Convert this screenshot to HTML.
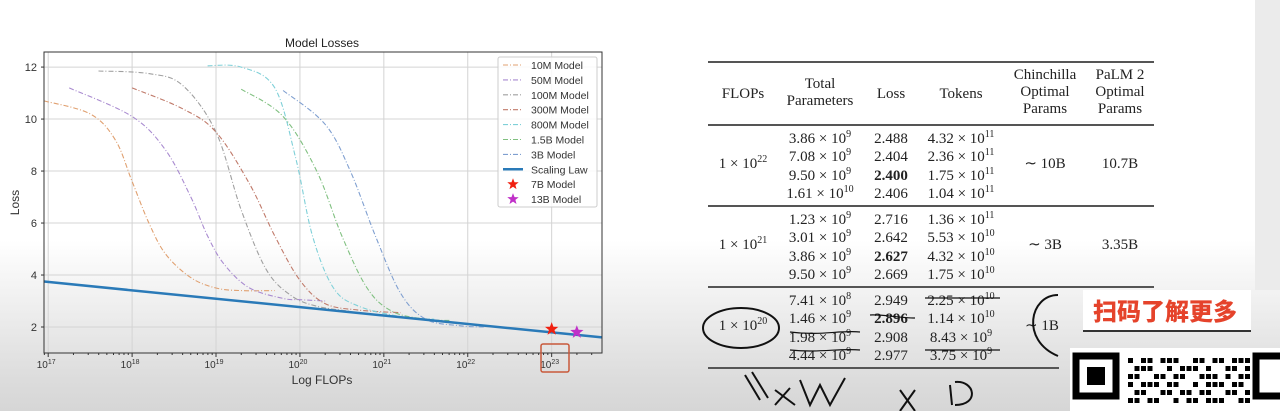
<!DOCTYPE html>
<html><head><meta charset="utf-8">
<style>
html,body{margin:0;padding:0;}
body{width:1280px;height:411px;overflow:hidden;position:relative;background:linear-gradient(to bottom,#ffffff 0px,#ffffff 240px,#f0f0f0 300px,#dcdcdc 380px,#d6d6d6 411px);font-family:"Liberation Sans",sans-serif;}
#panel{position:absolute;left:1255px;top:0;width:25px;height:290px;background:#ebebeb;}
#chart{position:absolute;left:0;top:0;}
.tb{position:absolute;font-family:"Liberation Serif",serif;font-size:15px;color:#222;text-align:center;white-space:nowrap;line-height:17px;}
.rule{position:absolute;height:2px;background:#555;}
sup{font-size:10px;vertical-align:6px;line-height:0;}
b{font-weight:bold;}
#promo{position:absolute;left:1083px;top:290px;width:168px;height:40px;background:#fff;border-bottom:2px solid #333;}
#promo span{position:absolute;left:10px;top:5px;font-family:"Noto Sans CJK SC",sans-serif;font-weight:900;font-size:24px;color:#e5432b;line-height:30px;}
</style></head><body>
<div id="panel"></div>
<svg id="chart" width="640" height="411"></svg>

<div>
<div class="rule" style="left:708px;top:61px;width:446px;"></div>
<div class="rule" style="left:708px;top:124px;width:446px;height:1.5px"></div>
<div class="rule" style="left:708px;top:205px;width:446px;height:1.5px"></div>
<div class="rule" style="left:708px;top:286px;width:446px;height:1.5px"></div>
<div class="rule" style="left:708px;top:367px;width:351px;"></div>
<div class="tb" style="left:713px;top:86px;width:60px">FLOPs</div>
<div class="tb" style="left:780px;top:76px;width:80px">Total<br>Parameters</div>
<div class="tb" style="left:866px;top:86px;width:50px">Loss</div>
<div class="tb" style="left:921px;top:86px;width:80px">Tokens</div>
<div class="tb" style="left:1005px;top:67px;width:80px">Chinchilla<br>Optimal<br>Params</div>
<div class="tb" style="left:1085px;top:67px;width:70px">PaLM 2<br>Optimal<br>Params</div>

<div class="tb" style="left:708px;top:156px;width:70px">1 × 10<sup>22</sup></div>
<div class="tb" style="left:780px;top:130px;width:80px;line-height:18.3px">3.86 × 10<sup>9</sup><br>7.08 × 10<sup>9</sup><br>9.50 × 10<sup>9</sup><br>1.61 × 10<sup>10</sup></div>
<div class="tb" style="left:866px;top:130px;width:50px;line-height:18.3px">2.488<br>2.404<br><b>2.400</b><br>2.406</div>
<div class="tb" style="left:921px;top:130px;width:80px;line-height:18.3px">4.32 × 10<sup>11</sup><br>2.36 × 10<sup>11</sup><br>1.75 × 10<sup>11</sup><br>1.04 × 10<sup>11</sup></div>
<div class="tb" style="left:1005px;top:156px;width:80px">∼ 10B</div>
<div class="tb" style="left:1085px;top:156px;width:70px">10.7B</div>

<div class="tb" style="left:708px;top:237px;width:70px">1 × 10<sup>21</sup></div>
<div class="tb" style="left:780px;top:211px;width:80px;line-height:18.3px">1.23 × 10<sup>9</sup><br>3.01 × 10<sup>9</sup><br>3.86 × 10<sup>9</sup><br>9.50 × 10<sup>9</sup></div>
<div class="tb" style="left:866px;top:211px;width:50px;line-height:18.3px">2.716<br>2.642<br><b>2.627</b><br>2.669</div>
<div class="tb" style="left:921px;top:211px;width:80px;line-height:18.3px">1.36 × 10<sup>11</sup><br>5.53 × 10<sup>10</sup><br>4.32 × 10<sup>10</sup><br>1.75 × 10<sup>10</sup></div>
<div class="tb" style="left:1005px;top:237px;width:80px">∼ 3B</div>
<div class="tb" style="left:1085px;top:237px;width:70px">3.35B</div>

<div class="tb" style="left:708px;top:318px;width:70px">1 × 10<sup>20</sup></div>
<div class="tb" style="left:780px;top:292px;width:80px;line-height:18.3px">7.41 × 10<sup>8</sup><br>1.46 × 10<sup>9</sup><br>1.98 × 10<sup>9</sup><br>4.44 × 10<sup>9</sup></div>
<div class="tb" style="left:866px;top:292px;width:50px;line-height:18.3px">2.949<br><b>2.896</b><br>2.908<br>2.977</div>
<div class="tb" style="left:921px;top:292px;width:80px;line-height:18.3px">2.25 × 10<sup>10</sup><br>1.14 × 10<sup>10</sup><br>8.43 × 10<sup>9</sup><br>3.75 × 10<sup>9</sup></div>
<div class="tb" style="left:1025px;top:318px;width:40px;text-align:left">∼ 1B</div>
</div>

<svg style="position:absolute;left:0;top:0" width="1280" height="411">
<ellipse cx="741" cy="328" rx="38" ry="20" fill="none" stroke="#111" stroke-width="2"/>
<path d="M1058,295 C1030,295 1020,340 1058,356" fill="none" stroke="#111" stroke-width="2"/>
<path d="M745,375 L760,400 M752,372 L768,398 M775,390 L795,405 M790,388 L775,405 M800,380 L810,405 L820,385 L830,405 L845,378" fill="none" stroke="#111" stroke-width="2"/>
<path d="M900,390 L915,411 M915,390 L900,411 M950,385 L952,405 M955,382 C975,380 980,405 955,405" fill="none" stroke="#111" stroke-width="2"/>
<path d="M790,332 C820,336 840,330 860,332 M790,350 C820,353 840,348 860,350 M870,315 C880,314 900,318 915,318 M925,298 L1000,298 M925,350 L1000,350" fill="none" stroke="#111" stroke-width="1.2"/>
</svg>

<div id="promo"><span>扫码了解更多</span></div>
<svg style="position:absolute;left:1070px;top:348px" width="210" height="63">
<rect x="0" y="0" width="210" height="63" fill="#fff"/>
<rect x="6" y="8" width="40" height="40" fill="none" stroke="#000" stroke-width="7"/>
<rect x="17" y="19" width="18" height="18" fill="#000"/>
<rect x="186" y="8" width="40" height="40" fill="none" stroke="#000" stroke-width="7"/>
<g fill="#000" id="qrdots"></g>
</svg>

<script>
// ---- chart data ----
const xTickExps = [17,18,19,20,21,22,23];
const yTicks = [2,4,6,8,10,12];
const modelNames = ["10M Model","50M Model","100M Model","300M Model","800M Model","1.5B Model","3B Model"];
const modelColors = ["#e0a070","#a98bd0","#a0a0a0","#c07a6a","#7fd0d8","#80c080","#7f9fd0"];
const m10Logx = [16.95,17.5,17.8,18.0,18.2,18.4,18.7,19.0,19.3,19.7];
const m10Loss = [10.7,10.2,9.2,7.6,6.0,4.8,3.9,3.5,3.4,3.4];
const m50Logx = [17.25,18.0,18.4,18.7,18.9,19.1,19.4,19.8,20.0,20.3];
const m50Loss = [11.2,10.1,8.8,7.0,5.5,4.4,3.5,3.1,3.05,3.0];
const m100Logx = [17.6,18.2,18.6,19.0,19.3,19.6,19.9,20.2,20.6];
const m100Loss = [11.85,11.75,11.3,9.5,6.5,4.2,3.2,2.8,2.6];
const m300Logx = [18.0,18.6,19.0,19.4,19.7,20.0,20.3,20.7,21.2];
const m300Loss = [11.2,10.4,9.5,7.5,5.5,3.8,2.9,2.65,2.55];
const m800Logx = [18.9,19.3,19.7,19.95,20.15,20.4,20.7,21.2,21.6];
const m800Loss = [12.05,12.0,11.2,8.5,5.5,3.5,2.8,2.4,2.3];
const m1500Logx = [19.3,19.8,20.2,20.5,20.8,21.1,21.5,21.8];
const m1500Loss = [11.15,10.1,8.0,5.5,3.5,2.6,2.3,2.25];
const m3000Logx = [19.8,20.3,20.6,20.9,21.2,21.5,21.9,22.2];
const m3000Loss = [11.1,9.8,8.0,5.5,3.3,2.3,2.05,2.0];
const scalingLogx = [16.95,23.6];
const scalingLoss = [3.75,1.6];
const starLogx = [23.0,23.3];
const starLoss = [1.92,1.8];
const starNames = ["7B Model","13B Model"];
const starColors = ["#f02010","#c030c8"];

const NS="http://www.w3.org/2000/svg";
const svg=document.getElementById('chart');
const L=44,R=602,T=52,B=353;
const xMin=16.95,xMax=23.6,yMin=1.0,yMax=12.58;
const xs=v=>L+(v-xMin)/(xMax-xMin)*(R-L);
const ys=v=>B-(v-yMin)/(yMax-yMin)*(B-T);
function mk(tag,attrs,parent){const e=document.createElementNS(NS,tag);for(const k in attrs)e.setAttribute(k,attrs[k]);(parent||svg).appendChild(e);return e;}
function smooth(P){let d='M'+P[0][0].toFixed(1)+','+P[0][1].toFixed(1);for(let i=0;i<P.length-1;i++){const p0=P[i-1]||P[i],p1=P[i],p2=P[i+1],p3=P[i+2]||p2;const c1=[p1[0]+(p2[0]-p0[0])/6,p1[1]+(p2[1]-p0[1])/6],c2=[p2[0]-(p3[0]-p1[0])/6,p2[1]-(p3[1]-p1[1])/6];d+='C'+c1.map(v=>v.toFixed(1))+' '+c2.map(v=>v.toFixed(1))+' '+p2.map(v=>v.toFixed(1));}return d;}

const title=mk('text',{x:322,y:47,'text-anchor':'middle','font-size':12,fill:'#222'});


title.textContent='Model Losses';

const grid=mk('g',{stroke:'#d4d4d4','stroke-width':1});


xTickExps.forEach(e=>{mk('line',{x1:xs(e),x2:xs(e),y1:T,y2:B},grid);});
yTicks.forEach(v=>{mk('line',{x1:L,x2:R,y1:ys(v),y2:ys(v)},grid);});

const ax=mk('g',{stroke:'#333','stroke-width':1});


for(let e=16;e<=23;e++){for(let k=1;k<10;k++){const lv=e+Math.log10(k);if(lv<xMin||lv>xMax)continue;mk('line',{x1:xs(lv),x2:xs(lv),y1:B,y2:B+(k==1?4:2)},ax);}}
xTickExps.forEach(e=>{
  const t=mk('text',{x:xs(e)-2,y:B+15,'text-anchor':'middle','font-size':10,fill:'#333',stroke:'none'},ax);
  
  
  t.innerHTML='10<tspan dy="-4" font-size="7">'+e+'</tspan>';
});
const yax=mk('g',{});


yTicks.forEach(v=>{
  mk('line',{x1:L-3,x2:L,y1:ys(v),y2:ys(v),stroke:'#333'},yax);
  const t=mk('text',{x:L-7,y:ys(v)+4,'text-anchor':'end','font-size':11,fill:'#333'},yax);
  
  
  t.textContent=v;
});
const xl=mk('text',{x:322,y:B+31,'text-anchor':'middle','font-size':12,fill:'#333'});


xl.textContent='Log FLOPs';
const yl=mk('text',{x:19,y:(T+B)/2,'text-anchor':'middle','font-size':12,fill:'#333',transform:'rotate(-90 19 '+((T+B)/2)+')'});


yl.textContent='Loss';

const series=[[m10Logx,m10Loss],[m50Logx,m50Loss],[m100Logx,m100Loss],[m300Logx,m300Loss],[m800Logx,m800Loss],[m1500Logx,m1500Loss],[m3000Logx,m3000Loss]];
series.forEach((s,i)=>{
  const P=s[0].map((x,j)=>[xs(x),ys(s[1][j])]);
  const p=mk('path',{d:smooth(P),fill:'none',stroke:modelColors[i],'stroke-width':1.1,'stroke-dasharray':'5,2,1,2'});
  
  
});
const sl=mk('polyline',{points:scalingLogx.map((x,j)=>xs(x)+','+ys(scalingLoss[j])).join(' '),fill:'none',stroke:'#2a7ab8','stroke-width':2.5});



function starPath(cx,cy,r){let d='';for(let i=0;i<10;i++){const a=-Math.PI/2+i*Math.PI/5;const rr=i%2?r*0.42:r;d+=(i?'L':'M')+(cx+rr*Math.cos(a)).toFixed(1)+','+(cy+rr*Math.sin(a)).toFixed(1);}return d+'Z';}
starLogx.forEach((x,i)=>{
  const s=mk('path',{d:starPath(xs(x),ys(starLoss[i]),7),fill:starColors[i]});
  
  
});

mk('rect',{x:L,y:T,width:R-L,height:B-T,fill:'none',stroke:'#333','stroke-width':1});
const hl=mk('rect',{x:541,y:344,width:28,height:28,rx:2,fill:'none',stroke:'#c8583a','stroke-width':1.5});



const lg=mk('g',{});


mk('rect',{x:498,y:57,width:99,height:150,rx:2,fill:'rgba(255,255,255,0.85)',stroke:'#ccc'},lg);
const legNames=modelNames.concat(['Scaling Law']).concat(starNames);
legNames.forEach((n,i)=>{
  const y=65+i*14.9;
  const ent=mk('g',{},lg);
  
  
  if(i<7) mk('line',{x1:503,x2:523,y1:y,y2:y,stroke:modelColors[i],'stroke-width':1.1,'stroke-dasharray':'5,2,1,2'},ent);
  else if(i==7) mk('line',{x1:503,x2:523,y1:y,y2:y,stroke:'#2a7ab8','stroke-width':2.5},ent);
  else mk('path',{d:starPath(513,y,6),fill:starColors[i-8]},ent);
  const t=mk('text',{x:531,y:y+4,'font-size':10.5,fill:'#333'},ent);
  t.textContent=n;
});

const qr=document.getElementById('qrdots');
const qrRows=["1011011100110110111","0111001011101001101","1100110110011101011","1011101100101110110","0110011011011001101","1101100101101110011"];
qrRows.forEach((r,ri)=>{for(let ci=0;ci<r.length;ci++){if(r[ci]=='1'){const q=document.createElementNS(NS,'rect');q.setAttribute('x',58+ci*6.5);q.setAttribute('y',10+ri*8);q.setAttribute('width',5);q.setAttribute('height',5);qr.appendChild(q);}}});
</script>
</body></html>
